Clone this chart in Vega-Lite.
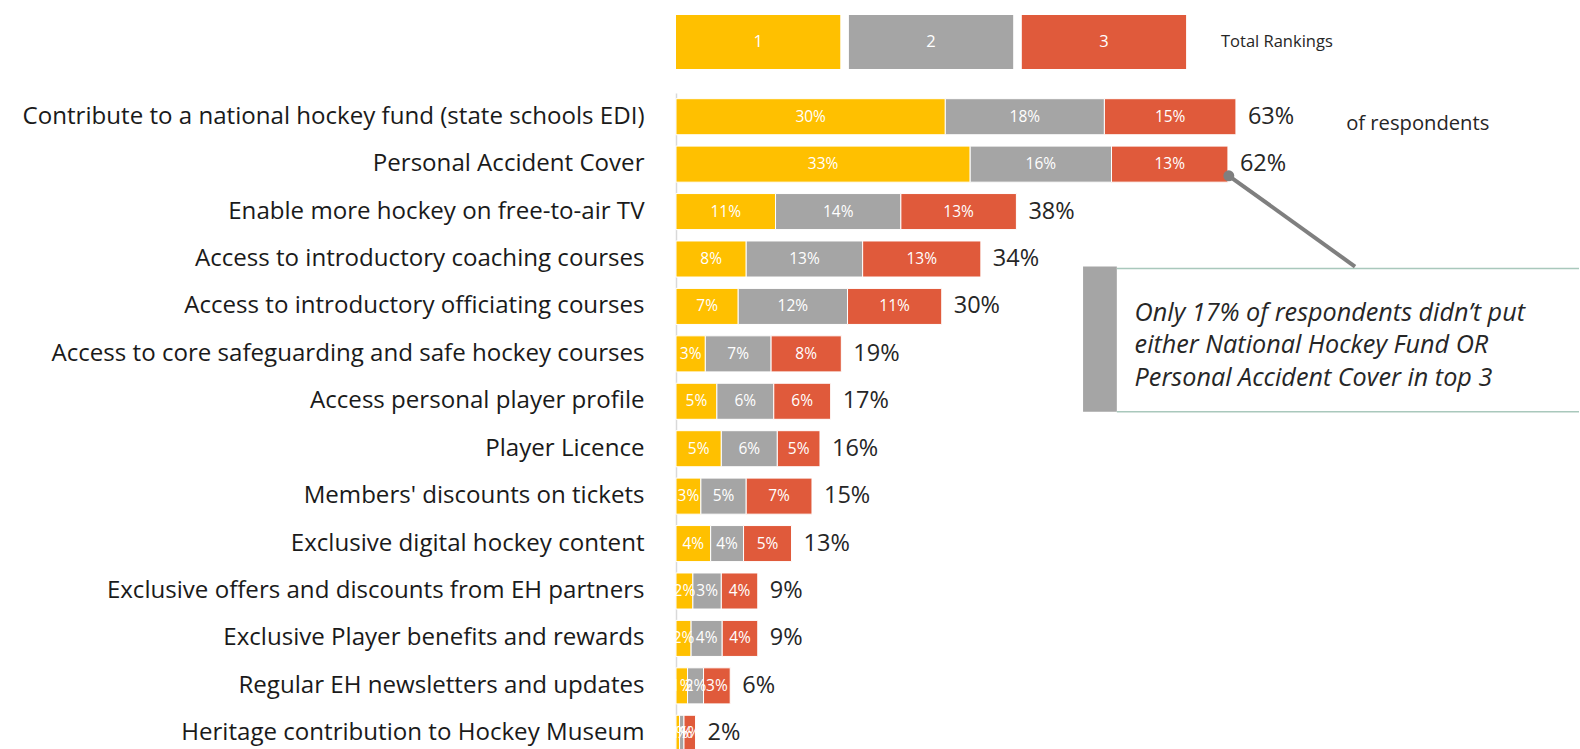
{
  "$schema": "https://vega.github.io/schema/vega-lite/v6.json",
  "background": "white",
  "padding": {"left": 22, "top": 15, "right": 0, "bottom": 0},
  "spacing": 24,
  "config": {"view": {"stroke": null}, "font": "Open Sans"},
  "datasets": {
    "legend": [{"k": "1"}, {"k": "2"}, {"k": "3"}, {"k": "Total Rankings"}],
    "segments": [
      {"item": "Contribute to a national hockey fund (state schools EDI)\u00a0", "rank": "1", "value": 30.3, "label": "30%"},
      {"item": "Contribute to a national hockey fund (state schools EDI)\u00a0", "rank": "2", "value": 17.9, "label": "18%"},
      {"item": "Contribute to a national hockey fund (state schools EDI)\u00a0", "rank": "3", "value": 14.8, "label": "15%"},
      {"item": "Personal Accident Cover", "rank": "1", "value": 33.1, "label": "33%"},
      {"item": "Personal Accident Cover", "rank": "2", "value": 15.9, "label": "16%"},
      {"item": "Personal Accident Cover", "rank": "3", "value": 13.1, "label": "13%"},
      {"item": "Enable more hockey on free-to-air TV", "rank": "1", "value": 11.2, "label": "11%"},
      {"item": "Enable more hockey on free-to-air TV", "rank": "2", "value": 14.1, "label": "14%"},
      {"item": "Enable more hockey on free-to-air TV", "rank": "3", "value": 13.0, "label": "13%"},
      {"item": "Access to introductory coaching courses", "rank": "1", "value": 7.9, "label": "8%"},
      {"item": "Access to introductory coaching courses", "rank": "2", "value": 13.1, "label": "13%"},
      {"item": "Access to introductory coaching courses", "rank": "3", "value": 13.3, "label": "13%"},
      {"item": "Access to introductory officiating courses", "rank": "1", "value": 7.0, "label": "7%"},
      {"item": "Access to introductory officiating courses", "rank": "2", "value": 12.3, "label": "12%"},
      {"item": "Access to introductory officiating courses", "rank": "3", "value": 10.6, "label": "11%"},
      {"item": "Access to core safeguarding and safe hockey courses", "rank": "1", "value": 3.3, "label": "3%"},
      {"item": "Access to core safeguarding and safe hockey courses", "rank": "2", "value": 7.4, "label": "7%"},
      {"item": "Access to core safeguarding and safe hockey courses", "rank": "3", "value": 7.9, "label": "8%"},
      {"item": "Access personal player profile", "rank": "1", "value": 4.6, "label": "5%"},
      {"item": "Access personal player profile", "rank": "2", "value": 6.4, "label": "6%"},
      {"item": "Access personal player profile", "rank": "3", "value": 6.4, "label": "6%"},
      {"item": "Player Licence\u00a0", "rank": "1", "value": 5.1, "label": "5%"},
      {"item": "Player Licence\u00a0", "rank": "2", "value": 6.3, "label": "6%"},
      {"item": "Player Licence\u00a0", "rank": "3", "value": 4.8, "label": "5%"},
      {"item": "Members' discounts on tickets", "rank": "1", "value": 2.8, "label": "3%"},
      {"item": "Members' discounts on tickets", "rank": "2", "value": 5.1, "label": "5%"},
      {"item": "Members' discounts on tickets", "rank": "3", "value": 7.4, "label": "7%"},
      {"item": "Exclusive digital hockey content\u00a0", "rank": "1", "value": 3.9, "label": "4%"},
      {"item": "Exclusive digital hockey content\u00a0", "rank": "2", "value": 3.7, "label": "4%"},
      {"item": "Exclusive digital hockey content\u00a0", "rank": "3", "value": 5.4, "label": "5%"},
      {"item": "Exclusive offers and discounts from EH partners\u00a0", "rank": "1", "value": 1.9, "label": "2%"},
      {"item": "Exclusive offers and discounts from EH partners\u00a0", "rank": "2", "value": 3.2, "label": "3%"},
      {"item": "Exclusive offers and discounts from EH partners\u00a0", "rank": "3", "value": 4.1, "label": "4%"},
      {"item": "Exclusive Player benefits and rewards", "rank": "1", "value": 1.7, "label": "2%"},
      {"item": "Exclusive Player benefits and rewards", "rank": "2", "value": 3.5, "label": "4%"},
      {"item": "Exclusive Player benefits and rewards", "rank": "3", "value": 4.0, "label": "4%"},
      {"item": "Regular EH newsletters and updates", "rank": "1", "value": 1.3, "label": "1%"},
      {"item": "Regular EH newsletters and updates", "rank": "2", "value": 1.8, "label": "2%"},
      {"item": "Regular EH newsletters and updates", "rank": "3", "value": 3.0, "label": "3%"},
      {"item": "Heritage contribution to Hockey Museum", "rank": "1", "value": 0.4, "label": "0%"},
      {"item": "Heritage contribution to Hockey Museum", "rank": "2", "value": 0.5, "label": "1%"},
      {"item": "Heritage contribution to Hockey Museum", "rank": "3", "value": 1.3, "label": "1%"}
    ],
    "totals": [
      {"item": "Contribute to a national hockey fund (state schools EDI)\u00a0", "total": 63.0, "label": "63%"},
      {"item": "Personal Accident Cover", "total": 62.1, "label": "62%"},
      {"item": "Enable more hockey on free-to-air TV", "total": 38.3, "label": "38%"},
      {"item": "Access to introductory coaching courses", "total": 34.3, "label": "34%"},
      {"item": "Access to introductory officiating courses", "total": 29.9, "label": "30%"},
      {"item": "Access to core safeguarding and safe hockey courses", "total": 18.6, "label": "19%"},
      {"item": "Access personal player profile", "total": 17.4, "label": "17%"},
      {"item": "Player Licence\u00a0", "total": 16.2, "label": "16%"},
      {"item": "Members' discounts on tickets", "total": 15.3, "label": "15%"},
      {"item": "Exclusive digital hockey content\u00a0", "total": 13.0, "label": "13%"},
      {"item": "Exclusive offers and discounts from EH partners\u00a0", "total": 9.2, "label": "9%"},
      {"item": "Exclusive Player benefits and rewards", "total": 9.2, "label": "9%"},
      {"item": "Regular EH newsletters and updates", "total": 6.1, "label": "6%"},
      {"item": "Heritage contribution to Hockey Museum", "total": 2.2, "label": "2%"}
    ]
  },
  "vconcat": [
    {
      "width": 683,
      "height": 54,
      "data": {"name": "legend"},
      "encoding": {
        "x": {"field": "k", "type": "nominal", "sort": null, "axis": null, "scale": {"paddingInner": 0.05, "paddingOuter": 0}}
      },
      "layer": [
        {
          "transform": [{"filter": "datum.k !== 'Total Rankings'"}],
          "mark": {"type": "bar"},
          "encoding": {
            "color": {"field": "k", "type": "nominal", "scale": {"domain": ["1", "2", "3"], "range": ["#FFC000", "#A5A5A5", "#E05A3B"]}, "legend": null}
          }
        },
        {
          "mark": {"type": "text", "fontSize": 16.5},
          "encoding": {
            "text": {"field": "k"},
            "color": {"condition": {"test": "datum.k === 'Total Rankings'", "value": "#262626"}, "value": "#ffffff"}
          }
        }
      ]
    },
    {
      "width": 903,
      "height": 664,
      "resolve": {"scale": {"y": "independent"}},
      "layer": [
        {
          "encoding": {
            "y": {
              "field": "item", "type": "nominal", "sort": null,
              "scale": {
                "domain": [
                  "Contribute to a national hockey fund (state schools EDI)\u00a0",
                  "Personal Accident Cover",
                  "Enable more hockey on free-to-air TV",
                  "Access to introductory coaching courses",
                  "Access to introductory officiating courses",
                  "Access to core safeguarding and safe hockey courses",
                  "Access personal player profile",
                  "Player Licence\u00a0",
                  "Members' discounts on tickets",
                  "Exclusive digital hockey content\u00a0",
                  "Exclusive offers and discounts from EH partners\u00a0",
                  "Exclusive Player benefits and rewards",
                  "Regular EH newsletters and updates",
                  "Heritage contribution to Hockey Museum"
                ],
                "paddingInner": 0.24, "paddingOuter": 0.12
              },
              "axis": {"title": null, "ticks": false, "grid": false, "labelFontSize": 24.1, "labelColor": "#1a1a1a", "labelFont": "Open Sans", "labelPadding": 32, "labelLimit": 0, "domainColor": "#d9d9d9", "domainWidth": 1.5}
            }
          },
          "layer": [
            {
              "data": {"name": "segments"},
              "mark": {"type": "bar", "stroke": "#ffffff", "strokeWidth": 1},
              "encoding": {
                "x": {"field": "value", "type": "quantitative", "stack": "zero", "axis": null, "scale": {"domain": [0, 101.6], "nice": false}},
                "color": {"field": "rank", "type": "nominal", "scale": {"domain": ["1", "2", "3"], "range": ["#FFC000", "#A5A5A5", "#E05A3B"]}, "legend": null},
                "order": {"field": "rank", "type": "ordinal"}
              }
            },
            {
              "data": {"name": "segments"},
              "mark": {"type": "text", "fontSize": 15.5, "color": "#ffffff"},
              "encoding": {
                "x": {"field": "value", "type": "quantitative", "stack": "zero", "bandPosition": 0.5, "axis": null, "scale": {"domain": [0, 101.6], "nice": false}},
                "detail": {"field": "rank", "type": "nominal"},
                "order": {"field": "rank", "type": "ordinal"},
                "text": {"field": "label"}
              }
            },
            {
              "data": {"name": "totals"},
              "mark": {"type": "text", "fontSize": 23.5, "align": "left", "dx": 12, "color": "#262626"},
              "encoding": {
                "x": {"field": "total", "type": "quantitative", "axis": null, "scale": {"domain": [0, 101.6], "nice": false}},
                "text": {"field": "label"}
              }
            }
          ]
        },
        {
          "layer": [
            {
              "data": {"values": [{"x": 45.8, "x2": 49.6, "y": 3.66, "y2": 6.72}]},
              "mark": {"type": "rect", "color": "#A5A5A5"},
              "encoding": {
                "x": {"field": "x", "type": "quantitative", "axis": null, "scale": {"domain": [0, 101.6], "nice": false}},
                "x2": {"field": "x2"},
                "y": {"field": "y", "type": "quantitative", "axis": null, "scale": {"domain": [0, 14], "reverse": true, "nice": false, "zero": false}},
                "y2": {"field": "y2"}
              }
            },
            {
              "data": {"values": [{"x": 49.6, "x2": 101.6, "y": 3.70}, {"x": 49.6, "x2": 101.6, "y": 6.72}]},
              "mark": {"type": "rule", "color": "#A9C8BC", "strokeWidth": 1.5},
              "encoding": {
                "x": {"field": "x", "type": "quantitative", "axis": null, "scale": {"domain": [0, 101.6], "nice": false}},
                "x2": {"field": "x2"},
                "y": {"field": "y", "type": "quantitative", "axis": null, "scale": {"domain": [0, 14], "reverse": true, "nice": false, "zero": false}}
              }
            },
            {
              "data": {"values": [{"x": 62.2, "y": 1.745, "x2": 76.4, "y2": 3.66}]},
              "mark": {"type": "rule", "color": "#7F7F7F", "strokeWidth": 4},
              "encoding": {
                "x": {"field": "x", "type": "quantitative", "axis": null, "scale": {"domain": [0, 101.6], "nice": false}},
                "x2": {"field": "x2"},
                "y": {"field": "y", "type": "quantitative", "axis": null, "scale": {"domain": [0, 14], "reverse": true, "nice": false, "zero": false}},
                "y2": {"field": "y2"}
              }
            },
            {
              "data": {"values": [{"x": 62.2, "y": 1.745}]},
              "mark": {"type": "circle", "color": "#7F7F7F", "opacity": 1, "size": 120},
              "encoding": {
                "x": {"field": "x", "type": "quantitative", "axis": null, "scale": {"domain": [0, 101.6], "nice": false}},
                "y": {"field": "y", "type": "quantitative", "axis": null, "scale": {"domain": [0, 14], "reverse": true, "nice": false, "zero": false}}
              }
            },
            {
              "data": {"values": [
                {"x": 51.6, "y": 4.63, "t": "Only 17% of respondents didn\u2019t put"},
                {"x": 51.6, "y": 5.32, "t": "either National Hockey Fund OR"},
                {"x": 51.6, "y": 6.0, "t": "Personal Accident Cover in top 3"}
              ]},
              "mark": {"type": "text", "align": "left", "baseline": "middle", "fontSize": 25.2, "fontStyle": "italic", "color": "#262626"},
              "encoding": {
                "x": {"field": "x", "type": "quantitative", "axis": null, "scale": {"domain": [0, 101.6], "nice": false}},
                "y": {"field": "y", "type": "quantitative", "axis": null, "scale": {"domain": [0, 14], "reverse": true, "nice": false, "zero": false}},
                "text": {"field": "t"}
              }
            },
            {
              "data": {"values": [{"x": 75.4, "y": 0.65, "t": "of respondents"}]},
              "mark": {"type": "text", "align": "left", "baseline": "middle", "fontSize": 20.2, "color": "#262626"},
              "encoding": {
                "x": {"field": "x", "type": "quantitative", "axis": null, "scale": {"domain": [0, 101.6], "nice": false}},
                "y": {"field": "y", "type": "quantitative", "axis": null, "scale": {"domain": [0, 14], "reverse": true, "nice": false, "zero": false}},
                "text": {"field": "t"}
              }
            }
          ]
        }
      ]
    }
  ]
}
